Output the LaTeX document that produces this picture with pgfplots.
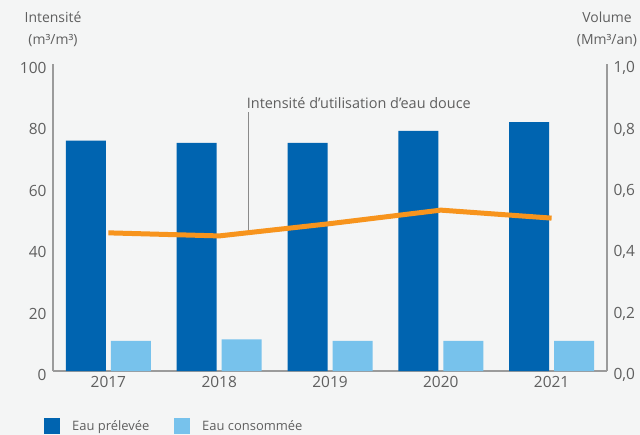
\documentclass[border=0pt]{standalone}
\usepackage{fontspec}
\setmainfont{Open Sans}
\usepackage{pgfplots}
\pgfplotsset{compat=1.18}
\definecolor{bg}{HTML}{F4F5F5}
\definecolor{darkblue}{HTML}{0064B0}
\definecolor{lightblue}{HTML}{77C2EC}
\definecolor{lineorange}{HTML}{F7941D}
\definecolor{axisgray}{HTML}{9B9B9B}
\definecolor{notegray}{HTML}{8A8A8A}
\definecolor{textgray}{HTML}{5F5F5F}
\begin{document}
\begin{tikzpicture}
\useasboundingbox[fill=bg] (-53bp,-64bp) rectangle (587bp,371bp);
% volumes (right axis) with the bars
\begin{axis}[
  at={(0,0)}, anchor=south west,
  width=554bp, height=307bp, scale only axis,
  xmin=-0.5, xmax=4.5, ymin=0, ymax=1,
  axis x line*=bottom, axis y line*=right,
  axis line style={draw=axisgray, line width=1.2bp, -},
  xtick={0,1,2,3,4}, xticklabels={2017,2018,2019,2020,2021},
  ytick={0,0.2,0.4,0.6,0.8,1},
  major tick length=0pt,
  tick label style={font=\fontsize{15.5}{18}\selectfont, text=textgray},
  yticklabel style={/pgf/number format/fixed, /pgf/number format/fixed zerofill,
    /pgf/number format/precision=1, /pgf/number format/use comma,
    /pgf/number format/assume math mode=true, yshift=-4bp},
  yticklabel shift=3bp,
  xticklabel style={yshift=-2bp},
  clip=false,
  legend style={draw=none, fill=none, at={(0,0)}, anchor=west,
    xshift=-9bp, yshift=-55bp, legend columns=2, inner sep=0pt,
    nodes={inner sep=0pt},
    font=\fontsize{13}{15}\selectfont, text=textgray,
    /tikz/every even column/.append style={column sep=22bp}},
]
\addplot[ybar, bar width=40bp, bar shift=-22.5bp, fill=darkblue, draw=none,
  legend image code/.code={\fill[darkblue] (0bp,-8bp) rectangle (16bp,8bp);}]
  coordinates {(0,0.75) (1,0.743) (2,0.743) (3,0.782) (4,0.811)};
\addlegendentry{\makebox[92bp][l]{\hspace{12bp}Eau prélevée}}
\addplot[ybar, bar width=40bp, bar shift=22.5bp, fill=lightblue, draw=none,
  legend image code/.code={\fill[lightblue] (0bp,-8bp) rectangle (16bp,8bp);}]
  coordinates {(0,0.098) (1,0.103) (2,0.098) (3,0.098) (4,0.098)};
\addlegendentry{\hspace{12bp}Eau consommée}
\node[align=center, font=\fontsize{14}{22}\selectfont, text=textgray] at (rel axis cs:1,1) [yshift=35bp] {Volume\\(Mm³/an)};
\end{axis}
% intensity (left axis) with the line
\begin{axis}[
  at={(0,0)}, anchor=south west,
  width=554bp, height=307bp, scale only axis,
  xmin=-0.5, xmax=4.5, ymin=0, ymax=100,
  axis x line=none, axis y line*=left,
  axis line style={draw=axisgray, line width=1.2bp, -},
  ytick={0,20,40,60,80,100},
  major tick length=0pt,
  tick label style={font=\fontsize{15.5}{18}\selectfont, text=textgray},
  yticklabel style={/pgf/number format/assume math mode=true, yshift=-4bp},
  yticklabel shift=3bp,
  clip=false,
]
\draw[notegray, line width=1.6bp] (axis cs:1.266,45.6) -- (axis cs:1.266,84.4);
\addplot[color=lineorange, line width=5bp] coordinates {(0,45) (1,44) (2,48) (3,52.4) (4,49.8)};
\node[anchor=base west, font=\fontsize{14.5}{17}\selectfont, text=textgray, inner sep=0pt] at (axis cs:1.266,84.4) [xshift=-2bp, yshift=3bp] {Intensité d’utilisation d’eau douce};
\node[align=center, font=\fontsize{14}{22}\selectfont, text=textgray] at (rel axis cs:0,1) [yshift=35bp] {Intensité\\(m³/m³)};
\end{axis}
\end{tikzpicture}
\end{document}
